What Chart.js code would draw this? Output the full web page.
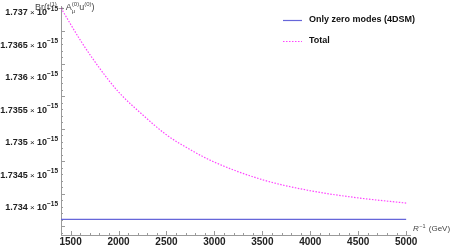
<!DOCTYPE html>
<html>
<head>
<meta charset="utf-8">
<script src="https://cdn.jsdelivr.net/npm/chart.js@4"></script>
<style>
  html, body { margin: 0; padding: 0; background: #fff; }
  #chart { display: block; }
</style>
</head>
<body>
<canvas id="chart" width="452" height="246"></canvas>
<script>
// values in units of 10^-15
const rInv = [1400, 1600, 1800, 2000, 2250, 2500, 2750, 3000, 3500, 4000, 4500, 5000];
const zeroModes = [1.73381, 1.73381, 1.73381, 1.73381, 1.73381, 1.73381, 1.73381, 1.73381, 1.73381, 1.73381, 1.73381, 1.73381];
const total = [1.73706, 1.73657, 1.73614, 1.73577, 1.73542, 1.73511, 1.73488, 1.73469, 1.73442, 1.73425, 1.73414, 1.73406];
const xTicks = [1500, 2000, 2500, 3000, 3500, 4000, 4500, 5000];
const yTicks = [1.734, 1.7345, 1.735, 1.7355, 1.736, 1.7365, 1.737];
const yTickText = ["1.734", "1.7345", "1.735", "1.7355", "1.736", "1.7365", "1.737"];
const seriesNames = ["Only zero modes (4DSM)", "Total"];

const FONT = "'Liberation Sans', Arial, sans-serif";
const BLUE = "#6666d9";
const PINK = "#ff44ff";
const AXIS = "#9a9a9a";

function sup(ctx, text, x, y, size, weight) {
  ctx.font = `${weight || ""} ${size}px ${FONT}`;
  ctx.fillText(text, x, y);
  return ctx.measureText(text).width;
}

const overlay = {
  id: "overlay",
  afterDraw(chart) {
    const ctx = chart.ctx;
    const xs = chart.scales.x, ys = chart.scales.y;
    const area = chart.chartArea;
    ctx.save();

    // inward tick marks
    ctx.strokeStyle = AXIS;
    ctx.lineWidth = 1;
    ctx.beginPath();
    for (let v = 1400; v <= 5000; v += 100) {
      const px = Math.round(xs.getPixelForValue(v)) + 0.5;
      const len = v % 500 === 0 ? 4 : 2;
      ctx.moveTo(px, area.bottom);
      ctx.lineTo(px, area.bottom - len);
    }
    for (let i = 0; i <= 31; i++) {
      const v = 1.7336 + i * 0.0001;
      if (v > ys.max) break;
      const py = Math.round(ys.getPixelForValue(v)) + 0.5;
      const len = (i + 4) % 5 === 0 ? 4 : 2;
      ctx.moveTo(area.left, py);
      ctx.lineTo(area.left + len, py);
    }
    ctx.stroke();

    // y tick labels  m × 10^-15
    ctx.fillStyle = "#222";
    ctx.textBaseline = "middle";
    ctx.textAlign = "left";
    yTicks.forEach((v, i) => {
      const py = ys.getPixelForValue(v) + 1;
      const a = yTickText[i];
      ctx.font = `bold 9px ${FONT}`;
      const wa = ctx.measureText(a).width;
      ctx.font = `8px ${FONT}`;
      const wx = ctx.measureText(" × ").width;
      ctx.font = `bold 9px ${FONT}`;
      const wt = ctx.measureText("10").width;
      ctx.font = `bold 6.5px ${FONT}`;
      const we = ctx.measureText("−15").width;
      let x = area.left - 3 - (wa + wx + wt + we);
      x += sup(ctx, a, x, py, 9, "bold");
      x += sup(ctx, " × ", x, py, 8, "");
      x += sup(ctx, "10", x, py, 9, "bold");
      sup(ctx, "−15", x, py - 4, 6.5, "bold");
    });

    // y axis title
    ctx.fillStyle = "#444";
    let x = 35, y = 8;
    x += sup(ctx, "Br(t", x, y, 9, "");
    x += sup(ctx, "(1)", x, y - 3.5, 6, "");
    x += sup(ctx, "→A", x, y, 9, "");
    const wsup = sup(ctx, "(0)", x, y - 3.5, 6, "");
    sup(ctx, "μ", x, y + 3.5, 6, "");
    x += wsup;
    x += sup(ctx, "u", x, y, 9, "");
    x += sup(ctx, "(0)", x, y - 3.5, 6, "");
    sup(ctx, ")", x, y, 9, "");

    // x axis title
    x = area.right + 3; y = area.bottom - 6;
    ctx.font = `italic 8px ${FONT}`;
    ctx.fillText("R", x, y);
    x += ctx.measureText("R").width + 0.5;
    x += sup(ctx, "−1", x, y - 3, 5.5, "");
    sup(ctx, " (GeV)", x + 1, y, 8, "");

    // legend
    const items = [[BLUE, [], 20], [PINK, [1.5, 1.5], 41]];
    items.forEach(([c, dash, ly], i) => {
      ctx.strokeStyle = c;
      ctx.lineWidth = 1.2;
      ctx.setLineDash(dash);
      ctx.beginPath();
      ctx.moveTo(283, ly + 0.5);
      ctx.lineTo(302, ly + 0.5);
      ctx.stroke();
      ctx.setLineDash([]);
      ctx.fillStyle = "#111";
      sup(ctx, seriesNames[i], 309, ly, 9, "bold");
    });

    ctx.restore();
  }
};

new Chart(document.getElementById("chart"), {
  type: "line",
  data: {
    datasets: [
      {
        label: seriesNames[0],
        data: rInv.map((r, i) => ({ x: r, y: zeroModes[i] })),
        borderColor: BLUE,
        borderWidth: 1.3,
        pointRadius: 0,
        fill: false
      },
      {
        label: seriesNames[1],
        data: rInv.map((r, i) => ({ x: r, y: total[i] })),
        borderColor: PINK,
        borderWidth: 1.2,
        borderDash: [1.5, 1.5],
        pointRadius: 0,
        cubicInterpolationMode: "monotone",
        fill: false
      }
    ]
  },
  options: {
    responsive: false,
    animation: false,
    devicePixelRatio: 1,
    layout: { padding: { top: 6, right: 42, left: 0, bottom: 0 } },
    plugins: { legend: { display: false }, tooltip: { enabled: false } },
    scales: {
      x: {
        type: "linear",
        min: 1400,
        max: 5040,
        afterBuildTicks: (s) => { s.ticks = xTicks.map((v) => ({ value: v })); },
        afterFit: (s) => { s.height = 11; },
        grid: { drawOnChartArea: false, drawTicks: false },
        border: { display: true, color: AXIS, width: 1 },
        ticks: {
          padding: 1,
          color: "#222",
          font: { family: FONT, size: 10, weight: "bold" },
          maxRotation: 0,
          autoSkip: false,
          callback: (v) => String(v)
        }
      },
      y: {
        type: "linear",
        min: 1.733569,
        max: 1.737092,
        afterBuildTicks: (s) => { s.ticks = yTicks.map((v) => ({ value: v })); },
        afterFit: (s) => { s.width = 61; },
        grid: { drawOnChartArea: false, drawTicks: false },
        border: { display: true, color: AXIS, width: 1 },
        ticks: { display: false }
      }
    }
  },
  plugins: [overlay]
});
</script>
</body>
</html>
